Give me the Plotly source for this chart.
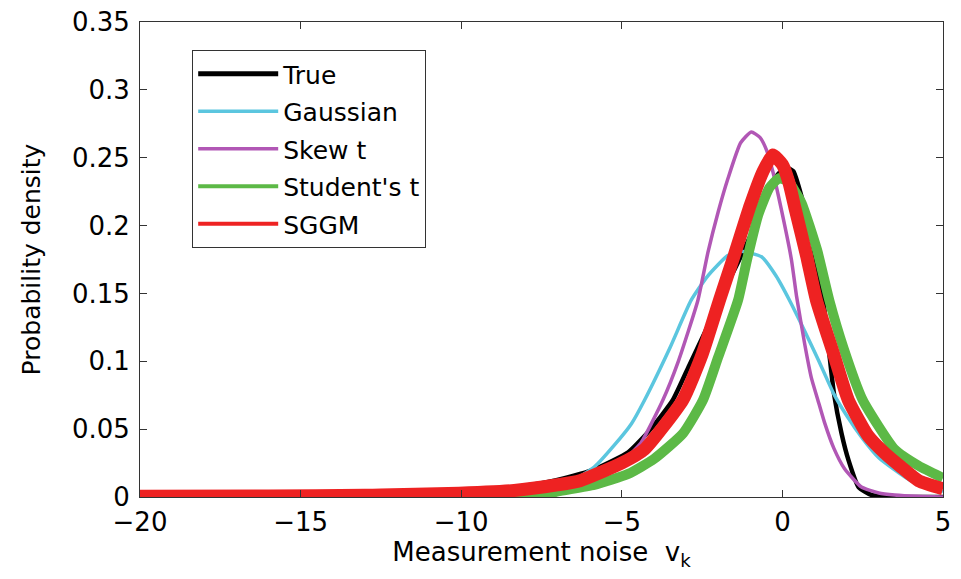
import plotly.graph_objects as go

# ---- data ----
true_x = [-20, -17, -15, -12, -10, -8.35, -7.3, -6.3, -5.8, -4.8, -4.1, -3.41, -2.9, -2.4, -1.96, -1.4,
          -0.87, -0.5, -0.2, 0.1, 0.34, 0.7, 1.0, 1.27, 1.45, 1.6, 1.84, 2.06, 2.37, 2.77, 3.2, 5]
true_y = [0.0002, 0.0004, 0.0008, 0.0018, 0.0033, 0.0072, 0.011, 0.017, 0.021, 0.033, 0.050, 0.0715,
          0.097, 0.122, 0.145, 0.172, 0.199, 0.222, 0.236, 0.243, 0.240, 0.212, 0.180, 0.145, 0.108,
          0.077, 0.047, 0.027, 0.0074, 0.0015, 0.0002, 0]

gauss_x = [-20, -10, -8.5, -7.5, -6.6, -5.86, -5.24, -4.7, -4.29, -3.5, -2.84, -2.32, -1.7, -1.28,
           -0.65, -0.2, 0.22, 0.7, 1.12, 1.6, 2.0, 2.5, 3.0, 4.0, 5.0]
gauss_y = [0, 0, 0.001, 0.004, 0.011, 0.022, 0.038, 0.054, 0.0715, 0.110, 0.145, 0.163, 0.178, 0.181,
           0.177, 0.163, 0.145, 0.122, 0.101, 0.076, 0.060, 0.043, 0.029, 0.012, 0.004]

skew_x = [-20, -12, -10, -8, -7, -6, -5.3, -4.8, -4.4, -3.72, -3.24, -2.63, -2.32, -2.0, -1.69, -1.3,
          -0.97, -0.7, -0.5, -0.3, -0.03, 0.28, 0.44, 0.7, 0.9, 1.11, 1.31, 1.6, 1.93, 2.46, 3.0,
          3.5, 4.2, 5]
skew_y = [0, 0, 0.0003, 0.0015, 0.004, 0.010, 0.019, 0.030, 0.040, 0.0715, 0.100, 0.145, 0.180,
          0.210, 0.235, 0.261, 0.269, 0.265, 0.256, 0.240, 0.2115, 0.175, 0.148, 0.112, 0.088,
          0.071, 0.055, 0.036, 0.021, 0.0074, 0.003, 0.0015, 0.0005, 0]

stud_x = [-20, -12, -10, -9, -8, -7.3, -6.9, -5.86, -4.8, -4.0, -3.09, -2.47, -2.0, -1.38, -1.1,
          -0.75, -0.4, -0.1, 0.2, 0.59, 1.08, 1.46, 1.9, 2.5, 3.5, 4.24, 5]
stud_y = [0, 0, 0.0002, 0.0005, 0.0012, 0.0025, 0.0046, 0.009, 0.017, 0.028, 0.047, 0.0715, 0.103,
          0.145, 0.175, 0.208, 0.228, 0.235, 0.232, 0.217, 0.182, 0.145, 0.110, 0.0715, 0.035,
          0.023, 0.014]

sggm_x = [-20, -16, -13, -12.5, -10.4, -8.35, -7, -6.3, -5, -4.3, -3.1, -2.5, -1.96, -1.5, -1.0,
          -0.6, -0.3, 0.0, 0.2, 0.4, 0.75, 1.06, 1.6, 2.05, 2.67, 3.2, 3.7, 4.24, 5]
sggm_y = [0.0005, 0.0008, 0.0012, 0.0015, 0.0025, 0.0048, 0.009, 0.012, 0.025, 0.035, 0.0715, 0.105,
          0.145, 0.178, 0.215, 0.240, 0.252, 0.245, 0.232, 0.212, 0.178, 0.145, 0.105, 0.0715,
          0.045, 0.032, 0.022, 0.012, 0.006]

series_names = ["True", "Gaussian", "Skew t", "Student's t", "SGGM"]
series_x = [true_x, gauss_x, skew_x, stud_x, sggm_x]
series_y = [true_y, gauss_y, skew_y, stud_y, sggm_y]
colors = ["#000000", "#5bc6df", "#b157b5", "#5cb946", "#ee2222"]
widths = [4.5, 3.5, 3.5, 10, 13]
legend_widths = [5, 3.5, 3.5, 4, 4]

x_ticks = [-20, -15, -10, -5, 0, 5]
y_ticks = [0, 0.05, 0.1, 0.15, 0.2, 0.25, 0.3, 0.35]
y_ticktext = ["0", "0.05", "0.1", "0.15", "0.2", "0.25", "0.3", "0.35"]

FONT = "DejaVu Sans"

fig = go.Figure()
for name, xs, ys, c, w in zip(series_names, series_x, series_y, colors, widths):
    fig.add_trace(go.Scatter(x=xs, y=ys, mode="lines", name=name, showlegend=False,
                             line=dict(color=c, width=w, shape="spline", smoothing=0.5),
                             hoverinfo="skip"))
# legend entries
for i, (name, c, w) in enumerate(zip(series_names, colors, legend_widths)):
    fig.add_trace(go.Scatter(x=[None], y=[None], mode="lines", name=name, legendgroup=f"g{i}",
                             line=dict(color=c, width=w), showlegend=True))

axis_common = dict(showline=True, linecolor="#333333", linewidth=1, mirror="ticks",
                   ticks="inside", ticklen=7, tickcolor="#333333", showgrid=False, zeroline=False,
                   automargin=False, ticklabeloverflow="allow",
                   tickfont=dict(family=FONT, size=26, color="#000000"))

# the page body adds an 8px offset on every side, so the figure is sized to fit the window
fig.update_layout(
    width=945, height=563,
    margin=dict(l=132, r=10, t=14, b=74),
    paper_bgcolor="white", plot_bgcolor="white",
    font=dict(family=FONT, color="#000000"),
    xaxis=dict(range=[-20, 5], tickvals=x_ticks, ticklabelstandoff=2,
               title=dict(text="Measurement noise  v<sub>k</sub>", font=dict(family=FONT, size=26),
                          standoff=0),
               **axis_common),
    yaxis=dict(range=[0, 0.35], tickvals=y_ticks, ticktext=y_ticktext, ticklabelstandoff=4,
               title=dict(text="Probability density", font=dict(family=FONT, size=25), standoff=24),
               **axis_common),
    legend=dict(x=0.065, y=0.941, xanchor="left", yanchor="top", bgcolor="white",
                bordercolor="#333333", borderwidth=1, font=dict(family=FONT, size=25),
                traceorder="grouped", tracegroupgap=2, itemwidth=80),
)

fig.write_html("out.html")
